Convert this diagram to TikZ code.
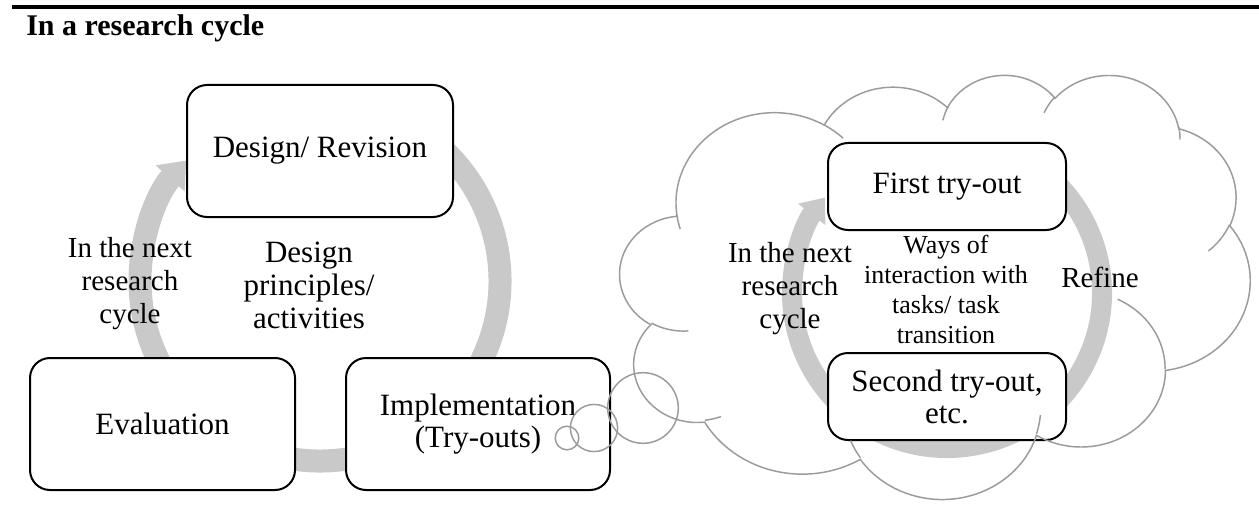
\documentclass[tikz,border=0pt]{standalone}
\usepackage{fontspec}
\setmainfont{Liberation Serif}
\usetikzlibrary{arrows.meta}

\definecolor{ringgray}{RGB}{201,201,201}
\definecolor{cloudgray}{RGB}{155,155,155}

% font sizes (1 unit = 0.75pt)
\newcommand\boxfont{\fontsize{23.25pt}{24pt}\selectfont}
\newcommand\lblfont{\fontsize{21.75pt}{24.4pt}\selectfont}
\newcommand\midfont{\fontsize{23.25pt}{24.75pt}\selectfont}
\newcommand\waysfont{\fontsize{19.5pt}{22.5pt}\selectfont}
\newcommand\titlefont{\bfseries\fontsize{22.5pt}{24pt}\selectfont}

% Cloud outline: elliptic arcs given by radii and a visual start angle and sweep;
% convert them to the parametric angles that TikZ's arc expects.
\newcommand\prepcloudarc[5]{%
  \pgfmathsetmacro\cloudtmpS{atan2((#2)*sin(#4),(#3)*cos(#4))}%
  \pgfmathsetmacro\cloudtmpE{atan2((#2)*sin((#4)+(#5)),(#3)*cos((#4)+(#5)))}%
  \pgfmathsetmacro\cloudtmpD{mod(\cloudtmpE-\cloudtmpS+720,360)}%
  \expandafter\xdef\csname cloudS#1\endcsname{\cloudtmpS}%
  \expandafter\xdef\csname cloudD#1\endcsname{\cloudtmpD}%
}

\begin{document}
\begin{tikzpicture}[x=0.75pt, y=-0.75pt,
  stage/.style={draw=black, line width=1.5pt, fill=white, rounded corners=15pt,
    align=center, inner sep=0pt, font=\boxfont},
  lbl/.style={align=center, inner sep=0pt, anchor=base},
  cycarrow/.style={draw=ringgray, line cap=butt},
  cloudline/.style={draw=cloudgray, line width=1.1pt}]

\useasboundingbox[fill=white] (0,0) rectangle (1259,531);

% outer cloud arcs
\prepcloudarc{A}{675.3}{919.0}{-190.48748}{123.78053}
\prepcloudarc{B}{533.3}{726.7}{-144.10238}{89.94523}
\prepcloudarc{C}{436.5}{594.5}{-145.80792}{99.72302}
\prepcloudarc{D}{485.7}{659.5}{-130.98607}{117.24173}
\prepcloudarc{E}{533.3}{727.3}{-78.70888}{109.02692}
\prepcloudarc{F}{677.5}{922.0}{-46.26725}{130.269}
\prepcloudarc{G}{578.5}{786.7}{0.62502}{114.03333}
\prepcloudarc{H}{675.2}{921.5}{22.4516}{115.17255}
\prepcloudarc{I}{772.0}{1054.3}{66.24263}{75.71102}
\prepcloudarc{J}{436.0}{591.8}{-274.94208}{146.73557}
\prepcloudarc{K}{434.5}{594.5}{-246.8285}{152.51885}
% inner cloud strokes
\prepcloudarc{a}{434.5}{594.5}{86.742}{26.4295}
\prepcloudarc{b}{436.0}{591.8}{73.61047}{11.44747}
\prepcloudarc{c}{675.2}{921.5}{137.62415}{14.0811}
\prepcloudarc{d}{675.2}{921.5}{6.45327}{15.99835}
\prepcloudarc{e}{578.5}{786.7}{-70.29235}{70.91737}
\prepcloudarc{f}{533.3}{727.3}{30.31803}{27.7515}
\prepcloudarc{g}{485.7}{659.5}{-13.74433}{14.8589}
\prepcloudarc{h}{485.7}{659.5}{-149.18145}{18.19537}
\prepcloudarc{i}{436.5}{594.5}{-163.49427}{17.68635}
\prepcloudarc{j}{675.3}{919.0}{-66.70695}{12.31935}
\prepcloudarc{k}{675.3}{919.0}{157.65435}{11.85817}

% heading and rule
\fill[black] (12,5) rectangle (1259,9);
\node[anchor=base west, inner sep=0pt, font=\titlefont] (title) at (26,36) {In a research cycle};

% circular arrows behind the stages
\coordinate (hubL) at (320,281);
\coordinate (hubR) at (947,293);
\draw[cycarrow, line width=17.25pt, -{Triangle[width=28pt,length=18pt]}]
  (hubL) ++(-60:180) arc[start angle=-60, end angle=222, radius=180];
\draw[cycarrow, line width=15pt, -{Triangle[width=25pt,length=16pt]}]
  (hubR) ++(-60:155) arc[start angle=-60, end angle=218, radius=155];

% stages of the research cycle
\node[stage, minimum width=199.5pt, minimum height=99pt] (design) at (320,151) {Design/ Revision};
\node[stage, minimum width=198.75pt, minimum height=99pt] (evaluation) at (162.5,424) {Evaluation};
\node[stage, minimum width=198pt, minimum height=99pt] (implementation) at (478,424) {Implementation\\(Try-outs)};

% try-outs inside the cloud
\node[stage, minimum width=178.5pt, minimum height=65.25pt] (first) at (947,186.5) {First try-out};
\node[stage, minimum width=178.5pt, minimum height=65.25pt] (second) at (947,396.5) {Second try-out,\\etc.};

% labels (anchored on the baseline of their last line)
\node[lbl, font=\lblfont] (nextL) at (130,323) {In the next\\research\\cycle};
\node[lbl, font=\midfont] (principles) at (309,328) {Design\\principles/\\activities};
\node[lbl, font=\lblfont] (nextR) at (790,328) {In the next\\research\\cycle};
\node[lbl, font=\waysfont] (ways) at (946,343) {Ways of\\interaction with\\tasks/ task\\transition};
\node[lbl, font=\lblfont] (refine) at (1100,287) {Refine};

% thought cloud
\begin{scope}[shift={(620,74)}, xscale=630/4320, yscale=424/4320]
\draw[cloudline] (390,1437)
  arc[x radius=675.3, y radius=919.0, start angle=\cloudSA, delta angle=\cloudDA]
  arc[x radius=533.3, y radius=726.7, start angle=\cloudSB, delta angle=\cloudDB]
  arc[x radius=436.5, y radius=594.5, start angle=\cloudSC, delta angle=\cloudDC]
  arc[x radius=485.7, y radius=659.5, start angle=\cloudSD, delta angle=\cloudDD]
  arc[x radius=533.3, y radius=727.3, start angle=\cloudSE, delta angle=\cloudDE]
  arc[x radius=677.5, y radius=922.0, start angle=\cloudSF, delta angle=\cloudDF]
  arc[x radius=578.5, y radius=786.7, start angle=\cloudSG, delta angle=\cloudDG]
  arc[x radius=675.2, y radius=921.5, start angle=\cloudSH, delta angle=\cloudDH]
  arc[x radius=772.0, y radius=1054.3, start angle=\cloudSI, delta angle=\cloudDI]
  arc[x radius=436.0, y radius=591.8, start angle=\cloudSJ, delta angle=\cloudDJ]
  arc[x radius=434.5, y radius=594.5, start angle=\cloudSK, delta angle=\cloudDK]
  -- cycle;
\draw[cloudline]
  (469.3,2617.7) arc[x radius=434.5, y radius=594.5, start angle=\cloudSa, delta angle=\cloudDa]
  (692.8,3489.9) arc[x radius=436.0, y radius=591.8, start angle=\cloudSb, delta angle=\cloudDb]
  (1647.8,3909.0) arc[x radius=675.2, y radius=921.5, start angle=\cloudSc, delta angle=\cloudDc]
  (2882.7,3475.1) arc[x radius=675.2, y radius=921.5, start angle=\cloudSd, delta angle=\cloudDd]
  (3412.9,2295.4) arc[x radius=578.5, y radius=786.7, start angle=\cloudSe, delta angle=\cloudDe]
  (4179.8,1535.4) arc[x radius=533.3, y radius=727.3, start angle=\cloudSf, delta angle=\cloudDf]
  (3832.4,542.6) arc[x radius=485.7, y radius=659.5, start angle=\cloudSg, delta angle=\cloudDg]
  (2907.8,395.2) arc[x radius=485.7, y radius=659.5, start angle=\cloudSh, delta angle=\cloudDh]
  (2214.1,472.0) arc[x radius=436.5, y radius=594.5, start angle=\cloudSi, delta angle=\cloudDi]
  (1400.0,519.2) arc[x radius=675.3, y radius=919.0, start angle=\cloudSj, delta angle=\cloudDj]
  (412.7,1578.9) arc[x radius=675.3, y radius=919.0, start angle=\cloudSk, delta angle=\cloudDk];
\end{scope}

% cloud tail bubbles
\draw[cloudline] (567,438) circle[radius=11.8];
\draw[cloudline] (594,428) circle[radius=23.6];
\draw[cloudline] (643,408) circle[radius=35.3];

\end{tikzpicture}
\end{document}
